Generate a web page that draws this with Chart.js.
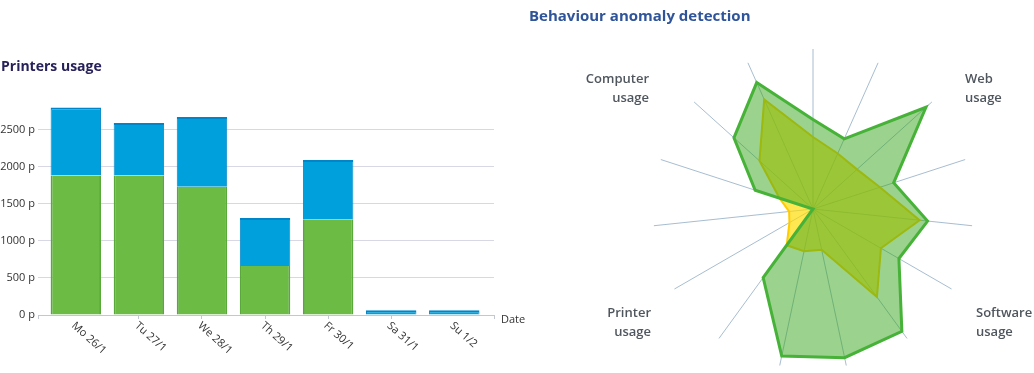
<!DOCTYPE html>
<html>
<head>
<meta charset="utf-8">
<script src="https://cdn.jsdelivr.net/npm/chart.js@4/dist/chart.umd.min.js"></script>
<style>
  html, body { margin: 0; padding: 0; background: #fff; }
  body { width: 1034px; height: 373px; position: relative; overflow: hidden; font-family: "Open Sans", sans-serif; }
  .title { position: absolute; font-weight: 700; line-height: 1; white-space: nowrap; }
  .corner { position: absolute; width: 100px; font: 600 13px/19px "Open Sans", sans-serif; color: #4f565e; }
  #printers { position: absolute; left: 0; top: 0; }
  #behaviour { position: absolute; left: 643px; top: 39px; }
</style>
</head>
<body>
<canvas id="printers" width="540" height="373"></canvas>
<canvas id="behaviour" width="340" height="340"></canvas>

<div class="title" style="left:1px; top:59px; font-size:14px; color:#27225a;">Printers usage</div>
<div class="title" style="left:529px; top:8px; font-size:15px; color:#2f5499;">Behaviour anomaly detection</div>
<div class="corner" style="left:549px; top:69px; text-align:right;">Computer<br>usage</div>
<div class="corner" style="left:965px; top:69px;">Web<br>usage</div>
<div class="corner" style="left:551px; top:303px; text-align:right;">Printer<br>usage</div>
<div class="corner" style="left:976px; top:303px;">Software<br>usage</div>

<script>
// printers usage, pages per day
const days = ['Mo 26/1', 'Tu 27/1', 'We 28/1', 'Th 29/1', 'Fr 30/1', 'Sa 31/1', 'Su 1/2'];
const greenPages = [1880, 1880, 1730, 660, 1290, 0, 0];
const bluePages = [920, 710, 940, 650, 800, 65, 65];
const pageTicks = [0, 500, 1000, 1500, 2000, 2500];

// behaviour radar, 15 axes starting at the top, clockwise
const radarAxes = ['1', '2', '3', '4', '5', '6', '7', '8', '9', '10', '11', '12', '13', '14', '15'];
const usualBehaviour = [0.56, 0.48, 0.95, 0.53, 0.72, 0.62, 0.945, 0.95, 0.94, 0.53, 0, 0, 0.38, 0.665, 0.865];
const currentBehaviour = [0.45, 0.38, 0.37, 0.44, 0.67, 0.49, 0.68, 0.26, 0.27, 0.28, 0.17, 0.15, 0.22, 0.45, 0.75];

Chart.defaults.font.family = '"Open Sans", sans-serif';

// rotated day labels + "Date" under the x axis
const dayLabels = {
  id: 'dayLabels',
  afterDraw: function(chart) {
    let ctx = chart.ctx;
    let x = chart.scales.x;
    ctx.save();
    ctx.font = '11px "Open Sans"';
    ctx.fillStyle = '#333';
    ctx.textBaseline = 'top';
    ctx.textAlign = 'left';
    days.forEach(function(d, i) {
      ctx.save();
      ctx.translate(x.getPixelForValue(i) + 1, x.top + 5);
      ctx.rotate(42 * Math.PI / 180);
      ctx.fillText(d, 0, 0);
      ctx.restore();
    });
    ctx.textBaseline = 'middle';
    ctx.fillText('Date', chart.chartArea.right + 7, x.top + 5);
    ctx.restore();
  }
};

new Chart(document.getElementById('printers'), {
  type: 'bar',
  data: {
    datasets: [{
      label: 'Green',
      data: greenPages.map(function(v, i) { return {x: i, y: v}; }),
      backgroundColor: '#6cbb44',
      borderColor: '#58a83a',
      borderWidth: {left: 2, right: 2, top: 0, bottom: 0},
      borderSkipped: false,
      barPercentage: 0.8,
      categoryPercentage: 1
    }, {
      label: 'Blue',
      data: bluePages.map(function(v, i) { return {x: i, y: v}; }),
      backgroundColor: '#00a0dd',
      borderColor: '#0086c8',
      borderWidth: {left: 1, right: 1, top: 2, bottom: 0},
      borderSkipped: false,
      barPercentage: 0.8,
      categoryPercentage: 1
    }]
  },
  options: {
    responsive: false,
    animation: false,
    layout: {padding: {top: 100, right: 46, left: 0, bottom: 0}},
    plugins: {legend: {display: false}, tooltip: {enabled: false}},
    scales: {
      x: {
        type: 'linear',
        min: -0.6,
        max: 6.63,
        stacked: true,
        offset: false,
        ticks: {display: false, stepSize: 1},
        grid: {offset: false, drawOnChartArea: false, tickLength: 4, color: '#c3c6d3'},
        border: {color: '#c3c6d3'},
        afterFit: function(s) { s.height = 58; }
      },
      y: {
        stacked: true,
        min: 0,
        max: 2900,
        afterBuildTicks: function(s) {
          s.ticks = pageTicks.map(function(v) { return {value: v}; });
        },
        ticks: {
          padding: 3,
          color: '#333',
          font: {size: 11},
          callback: function(v) { return v + ' p'; }
        },
        grid: {color: '#d8d8e4', drawTicks: false},
        border: {display: false},
        afterFit: function(s) { s.width = 38; }
      }
    }
  },
  plugins: [dayLabels]
});

new Chart(document.getElementById('behaviour'), {
  type: 'radar',
  data: {
    labels: radarAxes,
    datasets: [{
      label: 'Usual',
      data: usualBehaviour,
      fill: true,
      backgroundColor: 'rgba(55, 165, 30, 0.5)',
      borderColor: '#47b238',
      borderWidth: 3,
      pointRadius: 0
    }, {
      label: 'Current',
      data: currentBehaviour,
      fill: true,
      backgroundColor: 'rgba(255, 220, 0, 0.68)',
      borderColor: '#ffcc00',
      borderWidth: 2,
      pointRadius: 0
    }]
  },
  options: {
    responsive: false,
    animation: false,
    layout: {padding: 10},
    elements: {line: {tension: 0, borderJoinStyle: 'miter'}},
    plugins: {legend: {display: false}, tooltip: {enabled: false}},
    scales: {
      r: {
        min: 0,
        max: 1,
        ticks: {display: false},
        grid: {display: false},
        pointLabels: {display: false},
        angleLines: {color: 'rgba(150, 178, 200, 0.85)', lineWidth: 1}
      }
    }
  }
});
</script>
</body>
</html>
